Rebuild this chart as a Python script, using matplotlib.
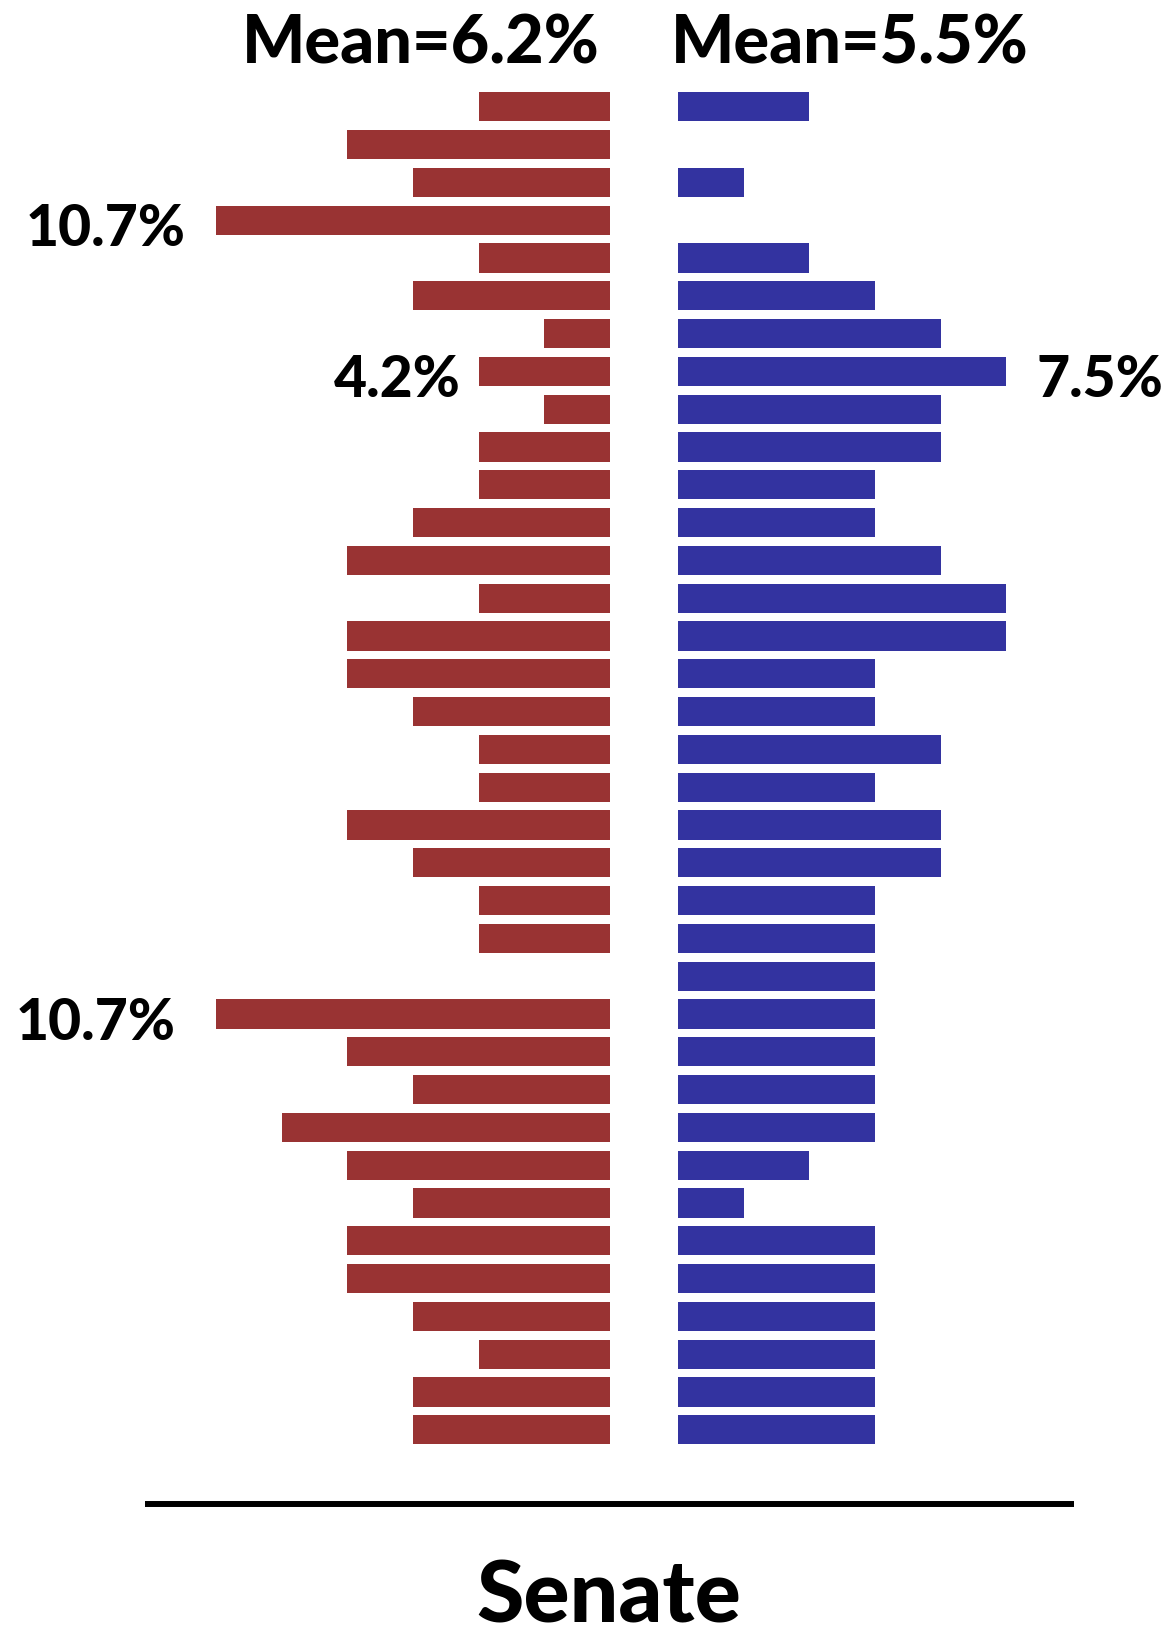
import numpy as np
import matplotlib.pyplot as plt

# bar lengths (in bins) for each of the 36 rows, top to bottom
red_vals = [2, 4, 3, 6, 2, 3, 1, 2, 1, 2, 2, 3, 4, 2, 4, 4, 3, 2,
            2, 4, 3, 2, 2, 0, 6, 4, 3, 5, 4, 3, 4, 4, 3, 2, 3, 3]
blue_vals = [2, 0, 1, 0, 2, 3, 4, 5, 4, 4, 3, 3, 4, 5, 5, 3, 3, 4,
             3, 4, 4, 3, 3, 3, 3, 3, 3, 3, 2, 1, 3, 3, 3, 3, 3, 3]

mean_labels = ['Mean=6.2%', 'Mean=5.5%']
title = 'Senate'

# annotated rows: (side, row, text)
notes = [('left', 3, '10.7%'), ('left', 7, '4.2%'),
         ('right', 7, '7.5%'), ('left', 24, '10.7%')]
note_gap = [0.47, 0.28, 0.47, 0.62]

red = '#993333'
blue = '#3333a0'
gap = 0.52  # half gap between the two sides, in bin units

fig = plt.figure(figsize=(11.69, 16.39), dpi=100)
ax = fig.add_axes([0, 0, 1, 1])

rows = np.arange(len(red_vals))
red_arr = np.array(red_vals)
blue_arr = np.array(blue_vals)

ax.barh(rows, -red_arr, left=-gap, height=0.77, color=red)
ax.barh(rows, blue_arr, left=gap, height=0.77, color=blue)

fnt = dict(family='Lato', weight='black', color='black')

for (side, r, txt), g in zip(notes, note_gap):
    if side == 'left':
        ax.text(-gap - red_arr[r] - g, r + 0.24, txt, ha='right', va='center',
                fontsize=41, **fnt)
    else:
        ax.text(gap + blue_arr[r] + g, r + 0.24, txt, ha='left', va='center',
                fontsize=41, **fnt)

ax.text(-3.4, -1.66, mean_labels[0], ha='center', va='center', fontsize=48, **fnt)
ax.text(3.13, -1.66, mean_labels[1], ha='center', va='center', fontsize=48, **fnt)

# base line and title
ax.plot([-7.61, 6.56], [36.96, 36.96], color='black', lw=4.3, solid_capstyle='butt')
ax.text(-0.54, 39.45, title, ha='center', va='center', fontsize=62, **fnt)

ax.set_xlim(-644 / 65.6, (1169 - 644) / 65.6)
ax.set_ylim((1639 - 106.8) / 37.8, -106.8 / 37.8)
ax.axis('off')

fig.savefig('out.png', dpi=100)
